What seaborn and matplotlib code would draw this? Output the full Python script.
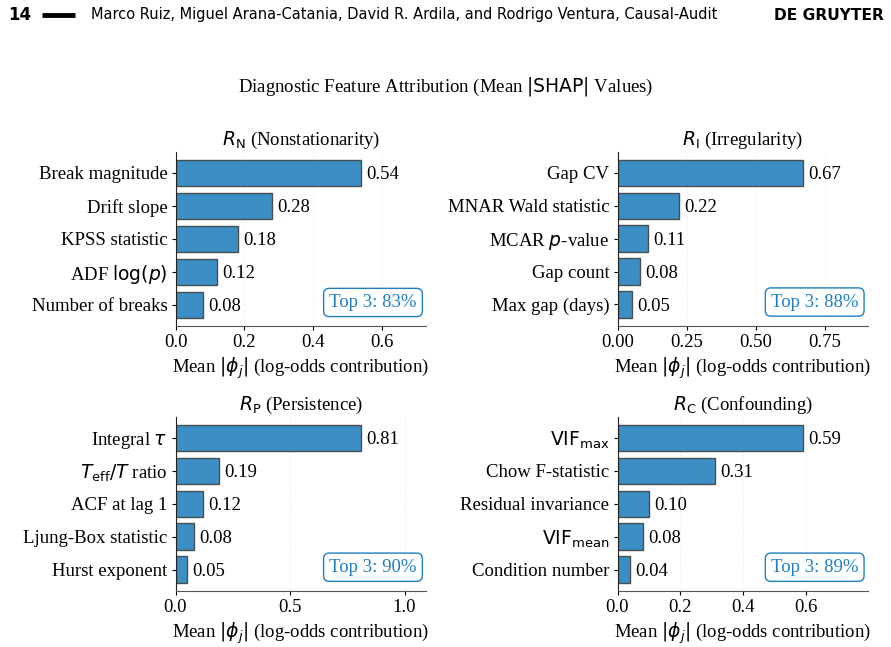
import matplotlib
matplotlib.use("Agg")
import matplotlib.pyplot as plt
import matplotlib.ticker as mticker
import seaborn as sns
import pandas as pd

sns.set_style("white")
plt.rcParams['font.family'] = ['Liberation Serif', 'DejaVu Serif']
plt.rcParams['mathtext.fontset'] = 'dejavusans'
for k in ['text.color', 'axes.labelcolor', 'xtick.color', 'ytick.color']:
    plt.rcParams[k] = 'black'

titles = [r"$R_{\mathrm{N}}$ (Nonstationarity)", r"$R_{\mathrm{I}}$ (Irregularity)",
          r"$R_{\mathrm{P}}$ (Persistence)", r"$R_{\mathrm{C}}$ (Confounding)"]

feat_N = ["Break magnitude", "Drift slope", "KPSS statistic", r"ADF $\log(p)$", "Number of breaks"]
vals_N = [0.54, 0.28, 0.18, 0.12, 0.08]
feat_I = ["Gap CV", "MNAR Wald statistic", r"MCAR $p$-value", "Gap count", "Max gap (days)"]
vals_I = [0.67, 0.22, 0.11, 0.08, 0.05]
feat_P = [r"Integral $\tau$", r"$T_{\mathrm{eff}}/T$ ratio", "ACF at lag 1", "Ljung-Box statistic", "Hurst exponent"]
vals_P = [0.81, 0.19, 0.12, 0.08, 0.05]
feat_C = [r"$\mathrm{VIF}_{\mathrm{max}}$", "Chow F-statistic", "Residual invariance", r"$\mathrm{VIF}_{\mathrm{mean}}$", "Condition number"]
vals_C = [0.59, 0.31, 0.10, 0.08, 0.04]
top3 = ["Top 3: 83%", "Top 3: 88%", "Top 3: 90%", "Top 3: 89%"]

panels = [(feat_N, vals_N), (feat_I, vals_I), (feat_P, vals_P), (feat_C, vals_C)]

fig = plt.figure(figsize=(8.91, 6.47), dpi=100)
W, H = 891, 647
boxes = [(175.7, 151.7, 426, 326), (617.7, 151.7, 867.7, 325.5),
         (175.5, 416.7, 426, 590.7), (617.5, 416.7, 867.7, 590.7)]

bar_color = "#2b86c0"
blue_txt = "#1f7fc0"
FS = 13.5

for i, ((feats, vals), (x0, y0, x1, y1)) in enumerate(zip(panels, boxes)):
    ax = fig.add_axes([x0 / W, 1 - y1 / H, (x1 - x0) / W, (y1 - y0) / H])
    df = pd.DataFrame({"feature": feats, "value": vals})
    sns.barplot(data=df, x="value", y="feature", orient="h", ax=ax,
                color=bar_color, alpha=0.92, edgecolor="#444444", linewidth=1.0,
                width=0.8, saturation=1)
    xmax = max(vals) * 1.35
    ax.set_xlim(0, xmax)
    ax.set_ylim(4.64, -0.64)
    for j, v in enumerate(vals):
        ax.annotate(f"{v:.2f}", xy=(v, j), xytext=(4, 0), textcoords="offset points",
                    ha="left", va="center_baseline", fontsize=FS)
    ax.set_title(titles[i], fontsize=FS, pad=5)
    ax.set_xlabel(r"Mean $|\phi_j|$ (log-odds contribution)", fontsize=FS, labelpad=3)
    ax.set_ylabel("")
    ax.tick_params(axis="y", labelsize=FS, length=3, left=True, pad=3)
    ax.tick_params(axis="x", labelsize=FS, length=3, bottom=True, pad=3)
    ax.xaxis.grid(True, linestyle=":", color="#dddddd", linewidth=0.8, alpha=0.6)
    ax.set_axisbelow(True)
    sns.despine(ax=ax)
    ax.spines["left"].set_color("#222222")
    ax.spines["bottom"].set_color("#555555")
    ax.text(0.963, 0.135, top3[i], transform=ax.transAxes, ha="right", va="center",
            fontsize=FS, color=blue_txt,
            bbox=dict(boxstyle="round,pad=0.3", facecolor="white", edgecolor=blue_txt, linewidth=1))

fig.axes[1].xaxis.set_major_locator(mticker.MultipleLocator(0.25))
fig.axes[1].xaxis.set_major_formatter(mticker.FormatStrFormatter("%.2f"))
fig.axes[2].xaxis.set_major_locator(mticker.MultipleLocator(0.5))

fig.text(0.5, 1 - 86 / H, r"Diagnostic Feature Attribution (Mean $|\mathrm{SHAP}|$ Values)",
         ha="center", va="center", fontsize=FS)

hdr_font = ['Liberation Sans Narrow', 'DejaVu Sans']
fig.text(8 / W, 1 - 15 / H, "14", ha="left", va="center", fontsize=12, fontweight="bold", family=hdr_font)
fig.add_artist(plt.Line2D([42 / W, 75 / W], [1 - 15 / H, 1 - 15 / H], color="black",
                          linewidth=3.5, solid_capstyle="butt"))
fig.text(91 / W, 1 - 15 / H,
         "Marco Ruiz, Miguel Arana-Catania, David R. Ardila, and Rodrigo Ventura, Causal-Audit",
         ha="left", va="center", fontsize=10.5, family=hdr_font)
fig.text(884 / W, 1 - 15 / H, "DE GRUYTER", ha="right", va="center", fontsize=11.2,
         fontweight="bold", family=hdr_font)

fig.savefig("out.png", dpi=100)
